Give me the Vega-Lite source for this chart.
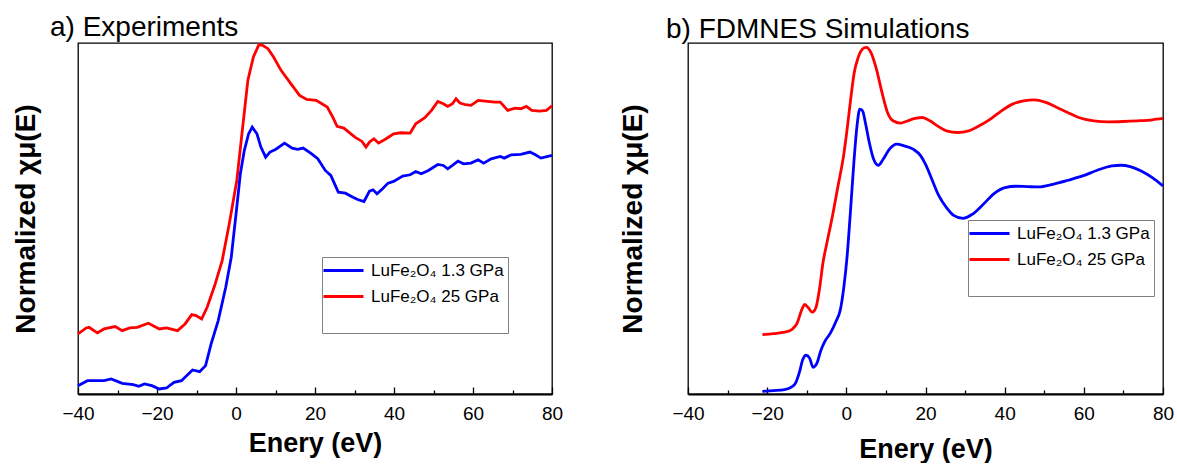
{
  "$schema": "https://vega.github.io/schema/vega-lite/v6.json",
  "background": "white",
  "padding": {"left": 11, "top": 12, "right": 0, "bottom": 0},
  "spacing": 136,
  "bounds": "flush",
  "config": {
    "font": "Liberation Sans",
    "view": {"stroke": "black", "strokeWidth": 1.3},
    "axisX": {
      "tickColor": "black", "tickWidth": 1.3, "domainColor": "black", "domainWidth": 1.8,
      "labelFontSize": 19, "labelColor": "black", "labelPadding": 17, "labelFlush": false,
      "labelOverlap": false, "grid": false, "titleFontSize": 27, "titleFontWeight": "bold",
      "titleColor": "black"
    },
    "axisY": {
      "labels": false, "ticks": false, "domain": false, "grid": false, "titleFontSize": 28,
      "titleFontWeight": "bold", "titleColor": "black", "titlePadding": 38
    },
    "legend": {
      "orient": "none", "strokeColor": "#808080", "fillColor": "white", "padding": 4,
      "symbolType": "M-2.5,0H2.5", "symbolSize": 256, "symbolStrokeWidth": 2.8, "symbolOffset": 8,
      "labelFontSize": 17, "labelColor": "black", "labelOffset": 18, "rowPadding": 8,
      "titleOrient": "bottom", "titleFontSize": 17, "titlePadding": 8
    },
    "title": {"anchor": "start", "frame": "group", "fontSize": 28, "fontWeight": "normal", "color": "black", "baseline": "alphabetic", "offset": -2.5}
  },
  "resolve": {
    "scale": {"x": "independent", "y": "independent", "color": "independent"},
    "legend": {"color": "independent"}
  },
  "datasets": {
    "exp": [
      {"E": -40.0, "mu": 1.80, "p": "25 GPa"}, {"E": -37.9, "mu": 1.98, "p": "25 GPa"}, {"E": -37.2, "mu": 2.00, "p": "25 GPa"},
      {"E": -35.1, "mu": 1.83, "p": "25 GPa"}, {"E": -33.4, "mu": 1.95, "p": "25 GPa"}, {"E": -30.6, "mu": 2.02, "p": "25 GPa"},
      {"E": -28.8, "mu": 1.90, "p": "25 GPa"}, {"E": -26.9, "mu": 1.98, "p": "25 GPa"}, {"E": -25.0, "mu": 2.00, "p": "25 GPa"},
      {"E": -22.2, "mu": 2.12, "p": "25 GPa"}, {"E": -19.4, "mu": 1.95, "p": "25 GPa"}, {"E": -17.6, "mu": 1.98, "p": "25 GPa"},
      {"E": -14.8, "mu": 1.90, "p": "25 GPa"}, {"E": -12.9, "mu": 2.10, "p": "25 GPa"}, {"E": -11.2, "mu": 2.38, "p": "25 GPa"},
      {"E": -10.1, "mu": 2.35, "p": "25 GPa"}, {"E": -8.7, "mu": 2.25, "p": "25 GPa"}, {"E": -7.3, "mu": 2.60, "p": "25 GPa"},
      {"E": -5.4, "mu": 3.25, "p": "25 GPa"}, {"E": -3.5, "mu": 4.00, "p": "25 GPa"}, {"E": -1.7, "mu": 5.10, "p": "25 GPa"},
      {"E": 0.2, "mu": 6.40, "p": "25 GPa"}, {"E": 1.6, "mu": 7.90, "p": "25 GPa"}, {"E": 3.0, "mu": 9.40, "p": "25 GPa"},
      {"E": 4.4, "mu": 10.10, "p": "25 GPa"}, {"E": 5.8, "mu": 10.47, "p": "25 GPa"}, {"E": 6.7, "mu": 10.45, "p": "25 GPa"},
      {"E": 8.1, "mu": 10.35, "p": "25 GPa"}, {"E": 9.5, "mu": 10.10, "p": "25 GPa"}, {"E": 11.4, "mu": 9.70, "p": "25 GPa"},
      {"E": 14.2, "mu": 9.25, "p": "25 GPa"}, {"E": 16.1, "mu": 8.95, "p": "25 GPa"}, {"E": 17.9, "mu": 8.83, "p": "25 GPa"},
      {"E": 20.3, "mu": 8.80, "p": "25 GPa"}, {"E": 23.1, "mu": 8.60, "p": "25 GPa"}, {"E": 24.5, "mu": 8.30, "p": "25 GPa"},
      {"E": 25.6, "mu": 8.02, "p": "25 GPa"}, {"E": 27.3, "mu": 7.97, "p": "25 GPa"}, {"E": 30.1, "mu": 7.70, "p": "25 GPa"},
      {"E": 31.9, "mu": 7.57, "p": "25 GPa"}, {"E": 32.9, "mu": 7.40, "p": "25 GPa"}, {"E": 33.8, "mu": 7.55, "p": "25 GPa"},
      {"E": 34.9, "mu": 7.65, "p": "25 GPa"}, {"E": 36.1, "mu": 7.52, "p": "25 GPa"}, {"E": 38.0, "mu": 7.65, "p": "25 GPa"},
      {"E": 39.9, "mu": 7.80, "p": "25 GPa"}, {"E": 41.7, "mu": 7.83, "p": "25 GPa"}, {"E": 44.1, "mu": 7.82, "p": "25 GPa"},
      {"E": 45.5, "mu": 8.10, "p": "25 GPa"}, {"E": 47.8, "mu": 8.28, "p": "25 GPa"}, {"E": 49.5, "mu": 8.50, "p": "25 GPa"},
      {"E": 51.1, "mu": 8.77, "p": "25 GPa"}, {"E": 52.5, "mu": 8.70, "p": "25 GPa"}, {"E": 53.6, "mu": 8.62, "p": "25 GPa"},
      {"E": 54.8, "mu": 8.70, "p": "25 GPa"}, {"E": 55.7, "mu": 8.85, "p": "25 GPa"}, {"E": 56.7, "mu": 8.72, "p": "25 GPa"},
      {"E": 58.1, "mu": 8.67, "p": "25 GPa"}, {"E": 59.5, "mu": 8.65, "p": "25 GPa"}, {"E": 61.3, "mu": 8.80, "p": "25 GPa"},
      {"E": 63.7, "mu": 8.77, "p": "25 GPa"}, {"E": 65.5, "mu": 8.75, "p": "25 GPa"}, {"E": 66.9, "mu": 8.75, "p": "25 GPa"},
      {"E": 68.8, "mu": 8.50, "p": "25 GPa"}, {"E": 70.7, "mu": 8.57, "p": "25 GPa"}, {"E": 72.1, "mu": 8.55, "p": "25 GPa"},
      {"E": 73.5, "mu": 8.62, "p": "25 GPa"}, {"E": 74.9, "mu": 8.50, "p": "25 GPa"}, {"E": 76.8, "mu": 8.48, "p": "25 GPa"},
      {"E": 78.6, "mu": 8.50, "p": "25 GPa"}, {"E": 80.0, "mu": 8.64, "p": "25 GPa"},
      {"E": -40.0, "mu": 0.25, "p": "1.3 GPa"}, {"E": -37.6, "mu": 0.40, "p": "1.3 GPa"}, {"E": -35.3, "mu": 0.40, "p": "1.3 GPa"},
      {"E": -33.4, "mu": 0.40, "p": "1.3 GPa"}, {"E": -31.6, "mu": 0.45, "p": "1.3 GPa"}, {"E": -28.8, "mu": 0.32, "p": "1.3 GPa"},
      {"E": -26.0, "mu": 0.28, "p": "1.3 GPa"}, {"E": -24.6, "mu": 0.23, "p": "1.3 GPa"}, {"E": -23.2, "mu": 0.30, "p": "1.3 GPa"},
      {"E": -21.3, "mu": 0.25, "p": "1.3 GPa"}, {"E": -19.4, "mu": 0.15, "p": "1.3 GPa"}, {"E": -17.6, "mu": 0.18, "p": "1.3 GPa"},
      {"E": -15.7, "mu": 0.35, "p": "1.3 GPa"}, {"E": -13.8, "mu": 0.40, "p": "1.3 GPa"}, {"E": -12.9, "mu": 0.50, "p": "1.3 GPa"},
      {"E": -11.0, "mu": 0.72, "p": "1.3 GPa"}, {"E": -9.2, "mu": 0.67, "p": "1.3 GPa"}, {"E": -7.7, "mu": 0.85, "p": "1.3 GPa"},
      {"E": -6.3, "mu": 1.50, "p": "1.3 GPa"}, {"E": -4.5, "mu": 2.20, "p": "1.3 GPa"}, {"E": -2.6, "mu": 3.20, "p": "1.3 GPa"},
      {"E": -1.2, "mu": 4.10, "p": "1.3 GPa"}, {"E": 0.2, "mu": 5.60, "p": "1.3 GPa"}, {"E": 1.1, "mu": 6.60, "p": "1.3 GPa"},
      {"E": 2.1, "mu": 7.30, "p": "1.3 GPa"}, {"E": 3.2, "mu": 7.80, "p": "1.3 GPa"}, {"E": 4.1, "mu": 8.00, "p": "1.3 GPa"},
      {"E": 5.3, "mu": 7.80, "p": "1.3 GPa"}, {"E": 6.3, "mu": 7.40, "p": "1.3 GPa"}, {"E": 7.5, "mu": 7.10, "p": "1.3 GPa"},
      {"E": 8.6, "mu": 7.25, "p": "1.3 GPa"}, {"E": 10.0, "mu": 7.33, "p": "1.3 GPa"}, {"E": 12.3, "mu": 7.52, "p": "1.3 GPa"},
      {"E": 14.2, "mu": 7.37, "p": "1.3 GPa"}, {"E": 15.6, "mu": 7.33, "p": "1.3 GPa"}, {"E": 17.0, "mu": 7.37, "p": "1.3 GPa"},
      {"E": 18.9, "mu": 7.22, "p": "1.3 GPa"}, {"E": 20.7, "mu": 7.05, "p": "1.3 GPa"}, {"E": 22.6, "mu": 6.70, "p": "1.3 GPa"},
      {"E": 24.0, "mu": 6.55, "p": "1.3 GPa"}, {"E": 25.9, "mu": 6.05, "p": "1.3 GPa"}, {"E": 27.7, "mu": 6.02, "p": "1.3 GPa"},
      {"E": 29.6, "mu": 5.90, "p": "1.3 GPa"}, {"E": 30.8, "mu": 5.83, "p": "1.3 GPa"}, {"E": 32.4, "mu": 5.77, "p": "1.3 GPa"},
      {"E": 33.8, "mu": 6.08, "p": "1.3 GPa"}, {"E": 34.7, "mu": 6.12, "p": "1.3 GPa"}, {"E": 35.7, "mu": 6.00, "p": "1.3 GPa"},
      {"E": 37.1, "mu": 6.15, "p": "1.3 GPa"}, {"E": 38.5, "mu": 6.32, "p": "1.3 GPa"}, {"E": 39.9, "mu": 6.37, "p": "1.3 GPa"},
      {"E": 42.2, "mu": 6.53, "p": "1.3 GPa"}, {"E": 44.1, "mu": 6.57, "p": "1.3 GPa"}, {"E": 45.5, "mu": 6.67, "p": "1.3 GPa"},
      {"E": 46.9, "mu": 6.60, "p": "1.3 GPa"}, {"E": 48.7, "mu": 6.70, "p": "1.3 GPa"}, {"E": 51.1, "mu": 6.88, "p": "1.3 GPa"},
      {"E": 52.5, "mu": 6.85, "p": "1.3 GPa"}, {"E": 53.6, "mu": 6.75, "p": "1.3 GPa"}, {"E": 54.8, "mu": 6.85, "p": "1.3 GPa"},
      {"E": 56.2, "mu": 6.98, "p": "1.3 GPa"}, {"E": 57.6, "mu": 6.90, "p": "1.3 GPa"}, {"E": 59.5, "mu": 6.92, "p": "1.3 GPa"},
      {"E": 61.3, "mu": 7.02, "p": "1.3 GPa"}, {"E": 62.7, "mu": 6.92, "p": "1.3 GPa"}, {"E": 64.6, "mu": 7.05, "p": "1.3 GPa"},
      {"E": 66.9, "mu": 7.12, "p": "1.3 GPa"}, {"E": 67.9, "mu": 7.07, "p": "1.3 GPa"}, {"E": 69.7, "mu": 7.17, "p": "1.3 GPa"},
      {"E": 72.1, "mu": 7.18, "p": "1.3 GPa"}, {"E": 74.4, "mu": 7.25, "p": "1.3 GPa"}, {"E": 75.8, "mu": 7.17, "p": "1.3 GPa"},
      {"E": 77.2, "mu": 7.07, "p": "1.3 GPa"}, {"E": 80.0, "mu": 7.15, "p": "1.3 GPa"}
    ],
    "sim": [
      {"E": -21.2, "mu": 1.78, "p": "25 GPa"}, {"E": -18.4, "mu": 1.81, "p": "25 GPa"}, {"E": -15.6, "mu": 1.85, "p": "25 GPa"},
      {"E": -13.8, "mu": 1.93, "p": "25 GPa"}, {"E": -12.4, "mu": 2.13, "p": "25 GPa"}, {"E": -11.4, "mu": 2.48, "p": "25 GPa"},
      {"E": -10.5, "mu": 2.68, "p": "25 GPa"}, {"E": -9.6, "mu": 2.58, "p": "25 GPa"}, {"E": -8.6, "mu": 2.45, "p": "25 GPa"},
      {"E": -7.7, "mu": 2.58, "p": "25 GPa"}, {"E": -6.8, "mu": 3.13, "p": "25 GPa"}, {"E": -5.9, "mu": 3.93, "p": "25 GPa"},
      {"E": -4.9, "mu": 4.53, "p": "25 GPa"}, {"E": -3.5, "mu": 5.33, "p": "25 GPa"}, {"E": -2.1, "mu": 6.23, "p": "25 GPa"},
      {"E": -0.7, "mu": 7.13, "p": "25 GPa"}, {"E": 0.2, "mu": 7.93, "p": "25 GPa"}, {"E": 1.1, "mu": 8.83, "p": "25 GPa"},
      {"E": 2.0, "mu": 9.63, "p": "25 GPa"}, {"E": 3.0, "mu": 10.08, "p": "25 GPa"}, {"E": 4.1, "mu": 10.33, "p": "25 GPa"},
      {"E": 5.0, "mu": 10.38, "p": "25 GPa"}, {"E": 6.2, "mu": 10.23, "p": "25 GPa"}, {"E": 7.6, "mu": 9.73, "p": "25 GPa"},
      {"E": 9.0, "mu": 9.03, "p": "25 GPa"}, {"E": 10.4, "mu": 8.43, "p": "25 GPa"}, {"E": 11.8, "mu": 8.18, "p": "25 GPa"},
      {"E": 13.7, "mu": 8.11, "p": "25 GPa"}, {"E": 15.5, "mu": 8.18, "p": "25 GPa"}, {"E": 17.4, "mu": 8.25, "p": "25 GPa"},
      {"E": 19.2, "mu": 8.28, "p": "25 GPa"}, {"E": 21.1, "mu": 8.18, "p": "25 GPa"}, {"E": 23.0, "mu": 8.03, "p": "25 GPa"},
      {"E": 25.3, "mu": 7.88, "p": "25 GPa"}, {"E": 28.1, "mu": 7.83, "p": "25 GPa"}, {"E": 30.9, "mu": 7.88, "p": "25 GPa"},
      {"E": 33.6, "mu": 8.03, "p": "25 GPa"}, {"E": 36.4, "mu": 8.23, "p": "25 GPa"}, {"E": 39.2, "mu": 8.48, "p": "25 GPa"},
      {"E": 42.0, "mu": 8.68, "p": "25 GPa"}, {"E": 44.8, "mu": 8.78, "p": "25 GPa"}, {"E": 47.6, "mu": 8.81, "p": "25 GPa"},
      {"E": 50.4, "mu": 8.73, "p": "25 GPa"}, {"E": 53.2, "mu": 8.58, "p": "25 GPa"}, {"E": 55.9, "mu": 8.43, "p": "25 GPa"},
      {"E": 58.7, "mu": 8.28, "p": "25 GPa"}, {"E": 62.5, "mu": 8.18, "p": "25 GPa"}, {"E": 66.2, "mu": 8.15, "p": "25 GPa"},
      {"E": 69.9, "mu": 8.16, "p": "25 GPa"}, {"E": 73.6, "mu": 8.18, "p": "25 GPa"}, {"E": 77.3, "mu": 8.21, "p": "25 GPa"},
      {"E": 80.0, "mu": 8.25, "p": "25 GPa"},
      {"E": -21.2, "mu": 0.08, "p": "1.3 GPa"}, {"E": -18.4, "mu": 0.10, "p": "1.3 GPa"}, {"E": -15.6, "mu": 0.13, "p": "1.3 GPa"},
      {"E": -13.8, "mu": 0.21, "p": "1.3 GPa"}, {"E": -12.8, "mu": 0.33, "p": "1.3 GPa"}, {"E": -11.9, "mu": 0.63, "p": "1.3 GPa"},
      {"E": -11.0, "mu": 1.03, "p": "1.3 GPa"}, {"E": -10.2, "mu": 1.16, "p": "1.3 GPa"}, {"E": -9.3, "mu": 1.08, "p": "1.3 GPa"},
      {"E": -8.4, "mu": 0.80, "p": "1.3 GPa"}, {"E": -7.4, "mu": 0.93, "p": "1.3 GPa"}, {"E": -6.5, "mu": 1.28, "p": "1.3 GPa"},
      {"E": -5.4, "mu": 1.58, "p": "1.3 GPa"}, {"E": -4.0, "mu": 1.83, "p": "1.3 GPa"}, {"E": -2.6, "mu": 2.18, "p": "1.3 GPa"},
      {"E": -1.5, "mu": 2.53, "p": "1.3 GPa"}, {"E": -0.6, "mu": 3.23, "p": "1.3 GPa"}, {"E": 0.2, "mu": 4.13, "p": "1.3 GPa"},
      {"E": 0.9, "mu": 5.23, "p": "1.3 GPa"}, {"E": 1.9, "mu": 6.93, "p": "1.3 GPa"}, {"E": 2.7, "mu": 8.03, "p": "1.3 GPa"},
      {"E": 3.4, "mu": 8.53, "p": "1.3 GPa"}, {"E": 4.1, "mu": 8.48, "p": "1.3 GPa"}, {"E": 4.8, "mu": 8.13, "p": "1.3 GPa"},
      {"E": 5.8, "mu": 7.53, "p": "1.3 GPa"}, {"E": 6.9, "mu": 7.03, "p": "1.3 GPa"}, {"E": 8.1, "mu": 6.85, "p": "1.3 GPa"},
      {"E": 9.3, "mu": 7.03, "p": "1.3 GPa"}, {"E": 10.9, "mu": 7.33, "p": "1.3 GPa"}, {"E": 12.7, "mu": 7.48, "p": "1.3 GPa"},
      {"E": 14.6, "mu": 7.43, "p": "1.3 GPa"}, {"E": 16.9, "mu": 7.33, "p": "1.3 GPa"}, {"E": 18.8, "mu": 7.13, "p": "1.3 GPa"},
      {"E": 20.2, "mu": 6.83, "p": "1.3 GPa"}, {"E": 21.6, "mu": 6.43, "p": "1.3 GPa"}, {"E": 23.4, "mu": 5.93, "p": "1.3 GPa"},
      {"E": 25.3, "mu": 5.58, "p": "1.3 GPa"}, {"E": 27.1, "mu": 5.35, "p": "1.3 GPa"}, {"E": 29.5, "mu": 5.26, "p": "1.3 GPa"},
      {"E": 31.8, "mu": 5.38, "p": "1.3 GPa"}, {"E": 34.6, "mu": 5.68, "p": "1.3 GPa"}, {"E": 37.4, "mu": 6.01, "p": "1.3 GPa"},
      {"E": 40.1, "mu": 6.18, "p": "1.3 GPa"}, {"E": 42.9, "mu": 6.22, "p": "1.3 GPa"}, {"E": 45.7, "mu": 6.21, "p": "1.3 GPa"},
      {"E": 48.5, "mu": 6.20, "p": "1.3 GPa"}, {"E": 52.2, "mu": 6.28, "p": "1.3 GPa"}, {"E": 56.0, "mu": 6.40, "p": "1.3 GPa"},
      {"E": 59.7, "mu": 6.53, "p": "1.3 GPa"}, {"E": 63.4, "mu": 6.70, "p": "1.3 GPa"}, {"E": 67.1, "mu": 6.83, "p": "1.3 GPa"},
      {"E": 69.4, "mu": 6.85, "p": "1.3 GPa"}, {"E": 71.7, "mu": 6.81, "p": "1.3 GPa"}, {"E": 74.5, "mu": 6.68, "p": "1.3 GPa"},
      {"E": 77.3, "mu": 6.48, "p": "1.3 GPa"}, {"E": 80.0, "mu": 6.23, "p": "1.3 GPa"}
    ]
  },
  "hconcat": [
    {
      "title": {"text": "a) Experiments", "dx": -28},
      "width": 474,
      "height": 351,
      "data": {"name": "exp"},
      "resolve": {"axis": {"x": "independent"}},
      "layer": [
        {
          "mark": {"type": "line", "strokeWidth": 2.8},
          "encoding": {
            "x": {"field": "E", "type": "quantitative", "scale": {"domain": [-40, 80], "nice": false},
              "axis": {"values": [-40, -20, 0, 20, 40, 60, 80], "tickSize": -7, "title": "Enery (eV)", "titlePadding": 7}},
            "y": {"field": "mu", "type": "quantitative", "scale": {"domain": [0, 10.52], "nice": false, "zero": false},
              "axis": {"title": "Normalized χμ(E)"}},
            "color": {"field": "p", "type": "nominal",
              "scale": {"domain": ["1.3 GPa", "25 GPa"], "range": ["#0000FF", "#FF0000"]},
              "legend": {"title": " ", "legendX": 244, "legendY": 214, "labelExpr": "'LuFe₂O₄ ' + datum.label"}}
          }
        },
        {
          "mark": {"type": "point", "opacity": 0},
          "encoding": {
            "x": {"field": "E", "type": "quantitative",
              "axis": {"orient": "bottom", "values": [-30, -10, 10, 30, 50, 70], "tickSize": -4, "labels": false, "domain": false, "title": null}},
            "y": {"field": "mu", "type": "quantitative"}
          }
        }
      ]
    },
    {
      "title": {"text": "b) FDMNES Simulations", "dx": -22},
      "width": 475,
      "height": 351,
      "data": {"name": "sim"},
      "resolve": {"axis": {"x": "independent"}},
      "layer": [
        {
          "mark": {"type": "line", "strokeWidth": 2.8, "interpolate": "monotone"},
          "encoding": {
            "x": {"field": "E", "type": "quantitative", "scale": {"domain": [-40, 80], "nice": false},
              "axis": {"values": [-40, -20, 0, 20, 40, 60, 80], "tickSize": -7, "title": "Enery (eV)", "titlePadding": 13}},
            "y": {"field": "mu", "type": "quantitative", "scale": {"domain": [0, 10.51], "nice": false, "zero": false},
              "axis": {"title": "Normalized χμ(E)", "titlePadding": 41}},
            "color": {"field": "p", "type": "nominal",
              "scale": {"domain": ["1.3 GPa", "25 GPa"], "range": ["#0000FF", "#FF0000"]},
              "legend": {"title": " ", "legendX": 280, "legendY": 177, "labelExpr": "'LuFe₂O₄ ' + datum.label"}}
          }
        },
        {
          "mark": {"type": "point", "opacity": 0},
          "encoding": {
            "x": {"field": "E", "type": "quantitative",
              "axis": {"orient": "bottom", "values": [-30, -10, 10, 30, 50, 70], "tickSize": -4, "labels": false, "domain": false, "title": null}},
            "y": {"field": "mu", "type": "quantitative"}
          }
        }
      ]
    }
  ]
}
